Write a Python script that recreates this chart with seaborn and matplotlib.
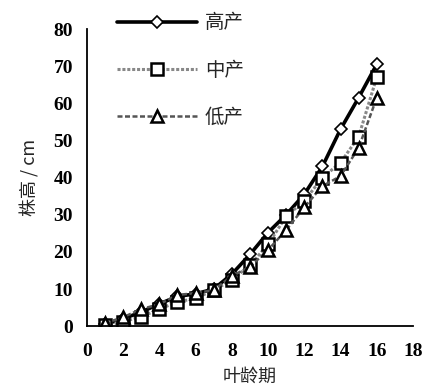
import numpy as np
import pandas as pd
import matplotlib
matplotlib.use("Agg")
import matplotlib.pyplot as plt
import seaborn as sns

leaf_age = [1, 2, 3, 4, 5, 6, 7, 8, 9, 10, 11, 12, 13, 14, 15, 16]
high = [0.5, 2.0, 3.8, 6.0, 8.0, 8.7, 10.0, 14.0, 19.3, 25.2, 30.0, 35.5, 43.0, 53.0, 61.5, 70.5]
mid = [0.3, 1.2, 2.5, 4.6, 6.5, 7.5, 9.7, 12.4, 16.4, 22.0, 29.6, 33.7, 40.0, 44.0, 51.0, 67.0]
low = [0.8, 2.4, 4.6, 5.9, 8.4, 8.9, 9.7, 13.5, 16.0, 20.5, 25.9, 32.0, 37.7, 40.4, 48.0, 61.5]
names = ["高产", "中产", "低产"]

df = pd.DataFrame({"leaf": leaf_age * 3,
                   "height": high + mid + low,
                   "group": [names[0]] * 16 + [names[1]] * 16 + [names[2]] * 16})

sns.set_theme(style="white")
plt.rcParams['font.family'] = ['Liberation Serif', 'Noto Sans CJK SC', 'DejaVu Sans']
cjk = ['Noto Sans CJK SC', 'DejaVu Sans']

fig = plt.figure(figsize=(4.24, 3.92), dpi=100)
ax = fig.add_axes([0.205, 0.168, 0.769, 0.758])

styles = {
    "高产": dict(color="black", lw=2.6, ls="-", marker="D", ms=6, mfc="white", mec="black", mew=1.2),
    "中产": dict(color="#888888", lw=2.2, ls=(0, (1, 0.6)), marker="s", ms=9, mfc="white", mec="black", mew=1.8),
    "低产": dict(color="#555555", lw=1.8, ls=(0, (2, 1)), marker="^", ms=9, mfc="white", mec="black", mew=1.8),
}
for g in names:
    sub = df[df["group"] == g]
    sns.lineplot(data=sub, x="leaf", y="height", ax=ax, label=g, **styles[g])

ax.set_xlim(0, 18)
ax.set_ylim(0, 80)
ax.set_xticks(range(0, 19, 2))
ax.set_yticks(range(0, 81, 10))
for s in ["top", "right"]:
    ax.spines[s].set_visible(False)
for s in ["left", "bottom"]:
    ax.spines[s].set_color("black")
    ax.spines[s].set_linewidth(1.3)
ax.tick_params(direction="in", length=5, width=1.2, colors="black", labelsize=14)
ax.tick_params(axis="x", pad=12)
ax.tick_params(axis="y", pad=10)
for lab in ax.get_xticklabels() + ax.get_yticklabels():
    lab.set_fontweight("bold")

ax.set_xlabel("叶龄期", fontsize=13, family=cjk, labelpad=6)
ax.set_ylabel("株高 / cm", fontsize=13, family=cjk, labelpad=10)

leg = ax.legend(loc="upper left", bbox_to_anchor=(0.04, 1.115), frameon=False,
                handlelength=4.1, labelspacing=1.35, handletextpad=0.4,
                prop={"family": cjk, "size": 14})

fig.savefig("out.png", dpi=100)
